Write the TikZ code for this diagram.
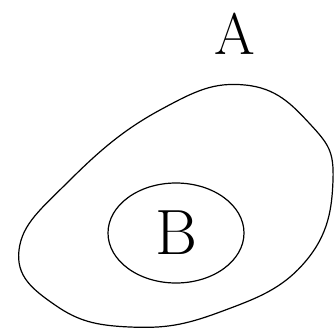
\documentclass[tikz,border=0pt]{standalone}
\usepackage{tikz}
\usetikzlibrary{shapes.geometric,positioning}
\tikzset{
  setline/.style={draw=black,line width=0.9pt},
  setlabel/.style={font=\fontsize{44}{44}\selectfont,inner sep=0pt},
  innerset/.style={ellipse,setline,minimum width=102pt,minimum height=75pt,
                   inner sep=0pt,font=\fontsize{48}{48}\selectfont}
}
\begin{document}
\begin{tikzpicture}[x=0.75pt,y=-0.75pt]
  \useasboundingbox (0,0) rectangle (335,329);
  % outer set A
  \draw[setline] plot[smooth cycle,tension=0.75] coordinates {
      (245,85) (310,124) (333,180) (305,262) (220,312) (130,327)
      (55,305) (19,250) (70,180) (160,110)};
  \node[setlabel] (labelA) at (235,34) {A};
  % inner set B
  \node[innerset] (setB) at (176,233) {B};
\end{tikzpicture}
\end{document}
